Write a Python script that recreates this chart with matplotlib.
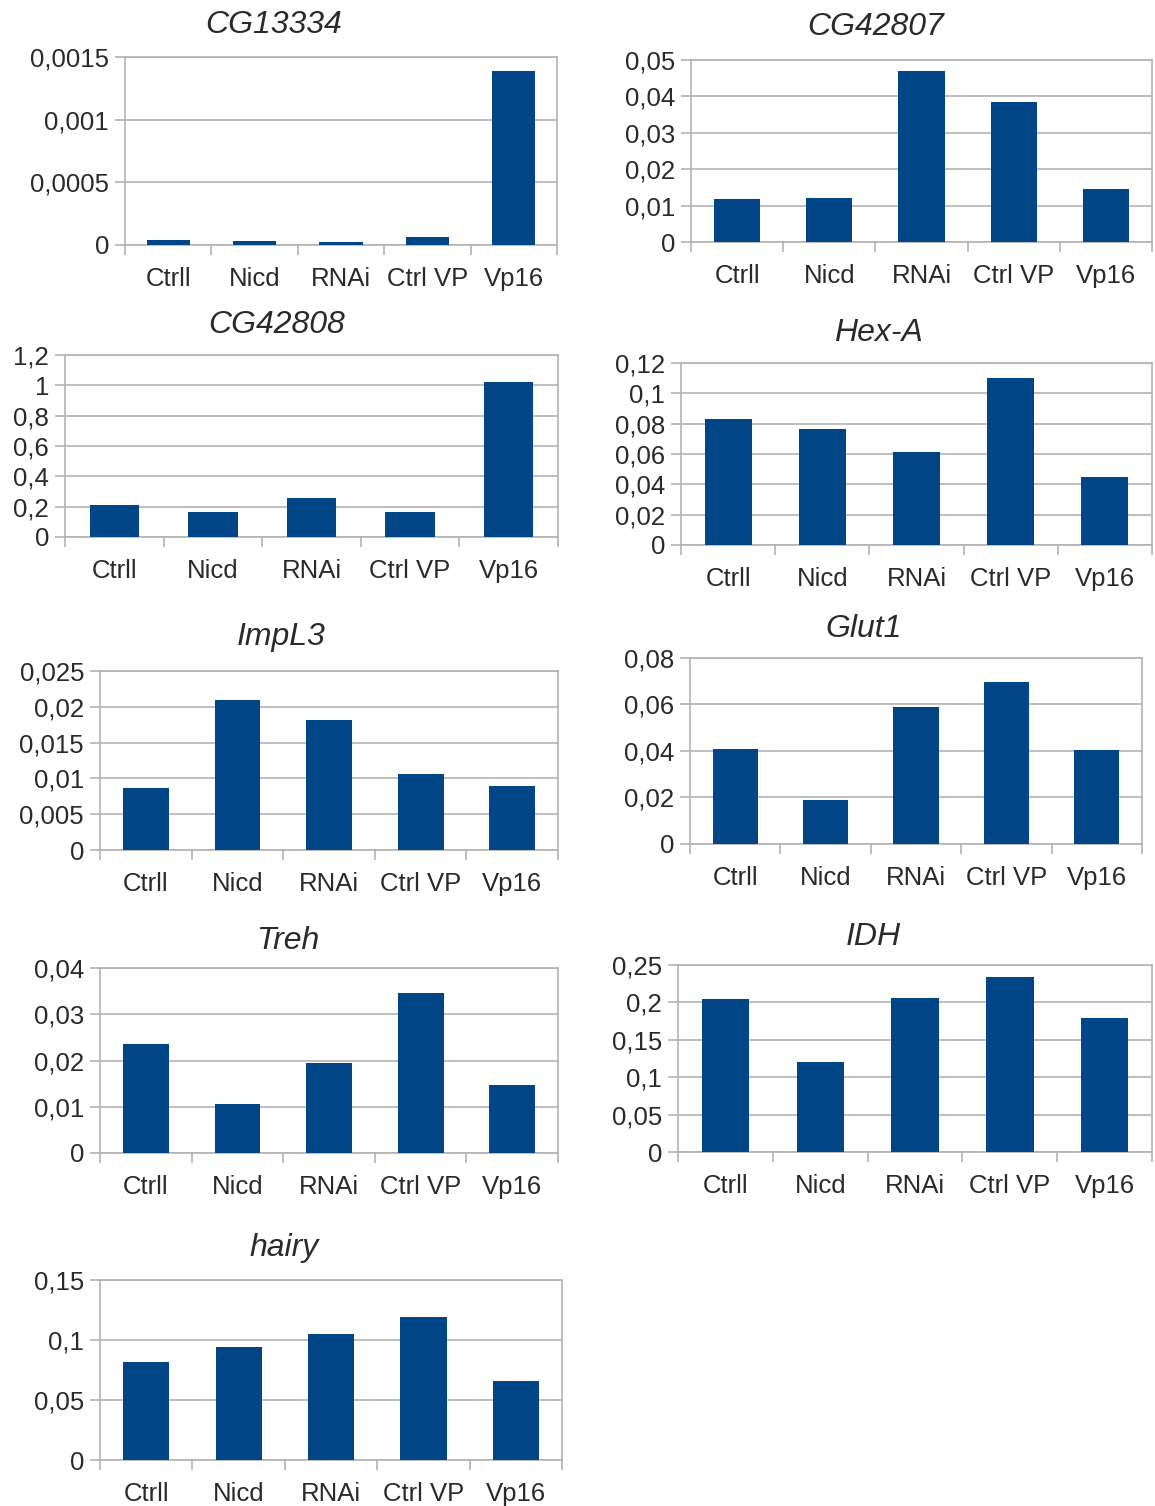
import matplotlib
matplotlib.use("Agg")
import matplotlib.pyplot as plt
from matplotlib.ticker import FixedLocator, FuncFormatter

plt.rcParams['font.family'] = ['Liberation Sans', 'DejaVu Sans']

categories = ["Ctrll", "Nicd", "RNAi", "Ctrl VP", "Vp16"]

genes = ["CG13334", "CG42807", "CG42808", "Hex-A", "ImpL3", "Glut1", "Treh", "IDH", "hairy"]

cg13334 = [0.00004, 0.00003, 0.00002, 0.00006, 0.00139]
cg42807 = [0.0117, 0.0120, 0.0470, 0.0385, 0.0145]
cg42808 = [0.21, 0.165, 0.255, 0.165, 1.02]
hex_a = [0.083, 0.0765, 0.0615, 0.110, 0.045]
impl3 = [0.0086, 0.0210, 0.0182, 0.0106, 0.0090]
glut1 = [0.041, 0.019, 0.059, 0.0695, 0.0405]
treh = [0.0235, 0.0105, 0.0195, 0.0347, 0.0148]
idh = [0.205, 0.120, 0.206, 0.234, 0.179]
hairy = [0.082, 0.094, 0.105, 0.119, 0.066]

series = [cg13334, cg42807, cg42808, hex_a, impl3, glut1, treh, idh, hairy]

# y-axis tick values per gene
yticks = [
    [0, 0.0005, 0.001, 0.0015],
    [0, 0.01, 0.02, 0.03, 0.04, 0.05],
    [0, 0.2, 0.4, 0.6, 0.8, 1.0, 1.2],
    [0, 0.02, 0.04, 0.06, 0.08, 0.10, 0.12],
    [0, 0.005, 0.01, 0.015, 0.02, 0.025],
    [0, 0.02, 0.04, 0.06, 0.08],
    [0, 0.01, 0.02, 0.03, 0.04],
    [0, 0.05, 0.10, 0.15, 0.20, 0.25],
    [0, 0.05, 0.10, 0.15],
]

W, H = 1155, 1506
# panel boxes in pixels: left, right, top, bottom
boxes = [
    (125, 557, 57, 245),
    (691, 1152, 60, 242),
    (65, 558, 355, 537),
    (681, 1152, 363, 545),
    (100, 558, 671, 850),
    (690, 1142, 658, 844),
    (100, 558, 968, 1153),
    (678, 1152, 965, 1152),
    (100, 562, 1280, 1460),
]
# title centres in pixels (x, y)
title_pos = [(274, 25), (876, 27), (277, 325), (878, 333), (281, 637),
             (864, 629), (288, 941), (873, 937), (284, 1248)]

BAR = "#004586"
GREY = "#b3b3b3"
TXT = "#2a2a2a"
TICK_FS = 18.5
TITLE_FS = 23


def comma_fmt(v, pos=None):
    if v == 0:
        return "0"
    s = ("%.4f" % v).rstrip("0").rstrip(".")
    return s.replace(".", ",")


fig = plt.figure(figsize=(W / 100, H / 100), dpi=100)

for gene, vals, ticks, (l, r, t, b), (tx, ty) in zip(genes, series, yticks, boxes, title_pos):
    ax = fig.add_axes([l / W, 1 - b / H, (r - l) / W, (b - t) / H])
    x = list(range(len(categories)))
    ax.bar(x, vals, width=0.5, color=BAR, zorder=3)
    ax.set_xlim(-0.5, len(categories) - 0.5)
    ax.set_ylim(ticks[0], ticks[-1])
    ax.set_yticks(ticks)
    ax.yaxis.set_major_formatter(FuncFormatter(comma_fmt))
    ax.grid(axis="y", color=GREY, linewidth=1.2, zorder=0)
    for sp in ax.spines.values():
        sp.set_color(GREY)
        sp.set_linewidth(1.2)
    ax.set_xticks(x)
    ax.set_xticklabels(categories)
    ax.xaxis.set_minor_locator(FixedLocator([i - 0.5 for i in range(len(categories) + 1)]))
    ax.tick_params(axis="x", which="major", length=0, pad=16, labelsize=TICK_FS, labelcolor=TXT)
    ax.tick_params(axis="x", which="minor", length=7, width=1.2, color=GREY)
    ax.tick_params(axis="y", length=7, width=1.2, color=GREY, pad=4.5, labelsize=TICK_FS,
                   labelcolor=TXT)
    fig.text(tx / W, 1 - ty / H, gene, ha="center", va="center", fontsize=TITLE_FS,
             style="italic", color=TXT)

fig.savefig("out.png", dpi=100, facecolor="white")
